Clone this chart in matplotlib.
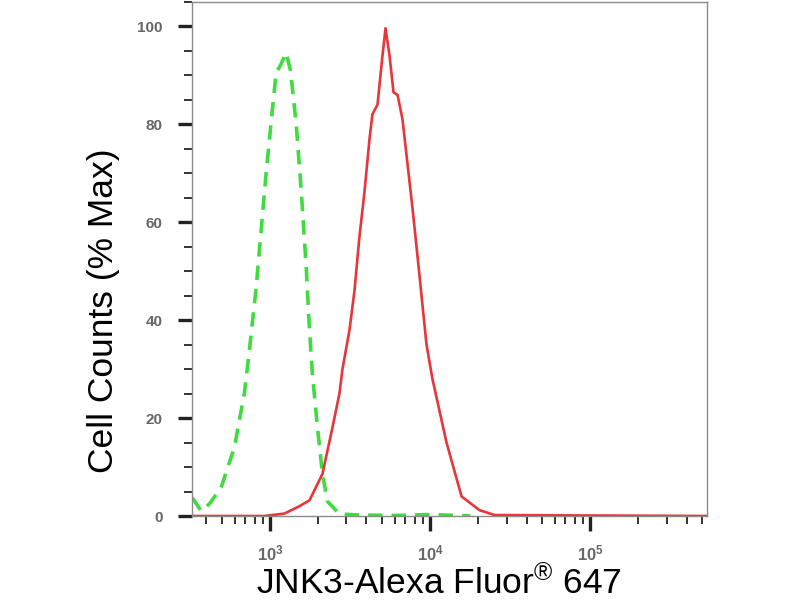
import matplotlib
matplotlib.use("Agg")
import matplotlib.pyplot as plt
from matplotlib.ticker import LogLocator, MultipleLocator, NullFormatter

plt.rcParams['font.family'] = ['Liberation Sans', 'DejaVu Sans']
plt.rcParams['mathtext.fontset'] = 'custom'
plt.rcParams['mathtext.rm'] = 'Liberation Sans'
plt.rcParams['mathtext.it'] = 'Liberation Sans'
plt.rcParams['mathtext.bf'] = 'Liberation Sans:bold'

# isotype control (green dashed)
ctrl_x = [327, 371, 418, 494, 598, 690, 743, 818, 879, 944, 1033, 1091, 1159,
          1259, 1340, 1455, 1563, 1679, 1762, 1837, 1977, 2123, 2280, 2710,
          3614, 6000, 10000, 17800]
ctrl_y = [3.7, 1.0, 2.5, 5.8, 14, 25, 34, 46.7, 58.4, 70, 83, 90.5, 92,
          94.6, 91, 80, 66.6, 51, 38, 29, 18, 8.6, 3.0, 0.4,
          0.2, 0.1, 0.3, 0.0]

# JNK3 stained (red solid)
jnk_x = [327, 920, 1228, 1524, 1762, 2123, 2449, 2710, 2831, 3133, 3365, 3614,
         3881, 4178, 4355, 4688, 5035, 5260, 5572, 5902, 6252, 6714, 7211,
         7745, 8337, 9484, 10330, 12650, 15700, 20300, 25200, 540000]
jnk_y = [0, 0, 0.5, 2, 3.2, 8.6, 18, 25, 30, 38, 46, 57,
         66, 77, 82, 84, 94, 99.6, 94, 86.5, 86, 81, 72,
         63, 53, 35, 28, 15, 4, 1.2, 0.2, 0]

fig = plt.figure(figsize=(8, 6), dpi=100)
ax = fig.add_axes([0.24, 0.14, 0.644, 0.857])

ax.plot(ctrl_x, ctrl_y, color='#3fdc3f', lw=2.6, ls=(0, (4, 2.5)))
ax.plot(jnk_x, jnk_y, color='#e8353a', lw=1.9)

ax.set_xscale('log')
ax.set_xlim(325, 538000)
ax.set_ylim(0, 105)

ax.xaxis.set_major_locator(LogLocator(base=10, numticks=10))
ax.xaxis.set_minor_locator(LogLocator(base=10, subs=range(2, 10), numticks=20))
ax.xaxis.set_minor_formatter(NullFormatter())
ax.yaxis.set_major_locator(MultipleLocator(20))
ax.yaxis.set_minor_locator(MultipleLocator(5))

for s in ax.spines.values():
    s.set_color('#8a8a8a')
    s.set_linewidth(1.0)

ax.tick_params(which='major', direction='out', length=10, width=2.4,
               color='#222222', labelsize=11, labelcolor='#666666')
ax.tick_params(which='minor', direction='out', length=6, width=1.4,
               color='#333333')
ax.tick_params(axis='x', which='major', pad=9, length=11, labelsize=12)
ax.tick_params(axis='y', which='major', pad=11)
for lab in ax.get_xticklabels() + ax.get_yticklabels():
    lab.set_fontweight('bold')

ax.set_ylabel('Cell Counts (% Max)', fontsize=25.5)
ax.yaxis.set_label_coords(-0.14, 0.40)
ax.set_xlabel('JNK3-Alexa Fluor$^{\u00ae}$ 647', fontsize=25.5)
ax.xaxis.set_label_coords(0.48, -0.095)

fig.savefig('out.png', dpi=100)
